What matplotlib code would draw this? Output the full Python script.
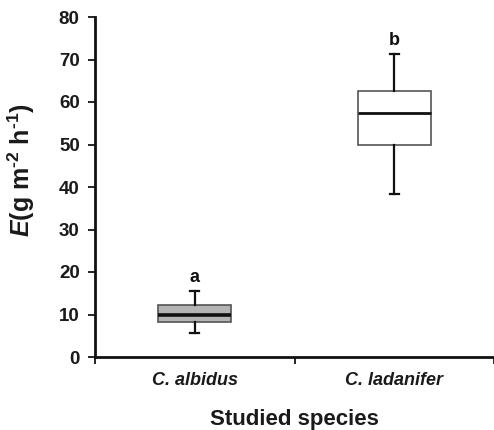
import matplotlib
matplotlib.use("Agg")
import matplotlib.pyplot as plt

species = ["C. albidus", "C. ladanifer"]
whislo = [5.7, 38.4]
q1 = [8.2, 49.9]
med = [10.0, 57.5]
q3 = [12.2, 62.6]
whishi = [15.5, 71.3]
letters = ["a", "b"]
fills = ["#b4b4b4", "#ffffff"]
yticks = [0, 10, 20, 30, 40, 50, 60, 70, 80]

plt.rcParams['font.family'] = ['Liberation Sans', 'DejaVu Sans']
plt.rcParams['mathtext.fontset'] = 'custom'
plt.rcParams['mathtext.rm'] = 'Liberation Sans:bold'
plt.rcParams['mathtext.it'] = 'Liberation Sans:bold:italic'
plt.rcParams['mathtext.bf'] = 'Liberation Sans:bold'

fig = plt.figure(figsize=(4.94, 4.30), dpi=100)
ax = fig.add_axes([95/494, 1-357/430, 1-95/494, 340/430])

stats = []
for i, s in enumerate(species):
    stats.append(dict(label=s, whislo=whislo[i], q1=q1[i], med=med[i],
                      q3=q3[i], whishi=whishi[i], fliers=[]))
pos = [1, 2]
bp = ax.bxp(stats, positions=pos, widths=0.366, patch_artist=True,
            showfliers=False,
            boxprops=dict(edgecolor="#555555", linewidth=1.2),
            medianprops=dict(color="#111111", linewidth=2.0),
            whiskerprops=dict(color="#111111", linewidth=1.6),
            capprops=dict(color="#111111", linewidth=1.6),
            capwidths=0.045)
for patch, c in zip(bp['boxes'], fills):
    patch.set_facecolor(c)
bp['medians'][0].set_linewidth(2.6)

for i, l in enumerate(letters):
    ax.text(pos[i], whishi[i] + 1.2, l, ha='center', va='bottom',
            fontsize=13, fontweight='bold', color='#111111')

ax.set_xlim(0.5, 2.5)
ax.set_ylim(0, 80)
ax.set_yticks(yticks)
ax.set_yticklabels([str(v) for v in yticks], fontsize=13.5, fontweight='bold', color='#1a1a1a')
ax.set_xticks([0.5, 1.5, 2.5])
ax.set_xticklabels([])
ax.set_xticks(pos, minor=True)
ax.set_xticklabels(species, minor=True, fontsize=13, fontweight='bold',
                   fontstyle='italic', color='#1a1a1a')
ax.tick_params(axis='x', which='minor', length=0, pad=11)
ax.tick_params(axis='x', which='major', length=5, width=1.2, direction='out')
ax.tick_params(axis='y', length=5, width=1.2, direction='out', pad=6)

for sp in ['top', 'right']:
    ax.spines[sp].set_visible(False)
for sp in ['left', 'bottom']:
    ax.spines[sp].set_linewidth(2.0)
    ax.spines[sp].set_color('#111111')

ax.set_ylabel('$\\it{E}$(g m$^{\u2010 2}$ h$^{\u2010 1}$)', fontsize=18, fontweight='bold',
              color='#1a1a1a')
ax.yaxis.set_label_coords(-0.145, 0.55)
ax.set_xlabel('Studied species', fontsize=16, fontweight='bold', color='#1a1a1a',
              labelpad=14)

fig.savefig("out.png", dpi=100)
